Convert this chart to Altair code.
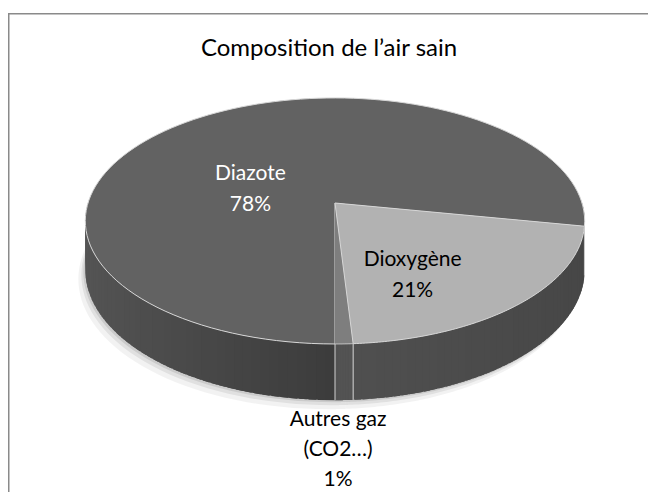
import altair as alt
import pandas as pd

# ---- data ----
names = ["Diazote", "Dioxygène", "Autres gaz (CO2…)"]
values = [78, 21, 1]
label_text = ["Diazote", "Dioxygène", "Autres gaz|(CO2…)"]
title_text = "Composition de l’air sain"

top_colors = ["#626262", "#b2b2b2", "#7e7e7e"]

df = pd.DataFrame({"idx": list(range(len(names))), "name": names,
                   "value": values, "lbl": label_text})

# ---- 3D pie geometry (style) ----
START = 180      # first slice angle (deg, clockwise from top)
B = 247          # horizontal radius
A = 120.4        # vertical radius
P = 0.146        # perspective factor
D = 48           # depth
N = 120          # arc points
M = 48           # side shading segments

W, H = 640, 479
X = alt.Scale(domain=[-327, 313], nice=False, zero=False)
Y = alt.Scale(domain=[190 - H, 190], nice=False, zero=False)


def pxe(t, f="1"):
    return f"{B}*({f})*sin({t})/(1+{P}*({f})*cos({t}))"


def pye(t, f="1"):
    return f"{A}*({f})*cos({t})/(1+{P}*({f})*cos({t}))"


base = (alt.Chart(df)
        .transform_window(cum="sum(value)", sort=[alt.SortField("idx")])
        .transform_joinaggregate(total="sum(value)")
        .transform_calculate(a0=f"({START}+360*(datum.cum-datum.value)/datum.total)*PI/180")
        .transform_calculate(a1=f"({START}+360*datum.cum/datum.total)*PI/180"))

faces = (base
         .transform_calculate(j=f"sequence(-1,{N + 1})")
         .transform_flatten(["j"])
         .transform_calculate(t=f"datum.a0+(datum.a1-datum.a0)*max(datum.j,0)/{N}")
         .transform_calculate(f="datum.j<0?0:1")
         .transform_calculate(px=pxe("datum.t", "datum.f"))
         .transform_calculate(py=pye("datum.t", "datum.f")))

# top faces
top = (faces
       .mark_line(filled=True, stroke="#d6d6d6", strokeWidth=1, strokeJoin="round")
       .encode(x=alt.X("px:Q", scale=X, axis=None),
               y=alt.Y("py:Q", scale=Y, axis=None),
               order="j:Q",
               detail="name:N",
               fill=alt.Fill("name:N", scale=alt.Scale(domain=names, range=top_colors),
                             legend=None)))

# soft shadow: bottom faces shifted down-left
shadows = []
for ox, oy, op in [(-7, 9, 0.05), (-4, 5, 0.07), (-2, 2, 0.09)]:
    shadows.append(
        faces
        .transform_calculate(sx=f"datum.px+({ox})")
        .transform_calculate(sy=f"datum.py-{D}/(1+{P}*datum.f*cos(datum.t))-({oy})")
        .mark_line(filled=True, strokeWidth=0, fill="black", fillOpacity=op)
        .encode(x=alt.X("sx:Q", scale=X, axis=None),
                y=alt.Y("sy:Q", scale=Y, axis=None),
                order="j:Q",
                detail="name:N"))

# side shading per slice: base, slope left, slope right
shade = {"Diazote": (60, 25, -10), "Dioxygène": (80, 10, 10), "Autres gaz (CO2…)": (74, 0, 0)}
vexpr = ""
for nm, (b0, sl, sr) in shade.items():
    vexpr += f"datum.name==='{nm}' ? {b0}-(sin(datum.tm)<0?{sl}:{sr})*sin(datum.tm) : "
vexpr += "70"

side = (base
        .transform_calculate(pc="[0,1]")
        .transform_flatten(["pc"])
        .transform_calculate(lo="max(datum.a0,(90+360*datum.pc)*PI/180)")
        .transform_calculate(hi="min(datum.a1,(270+360*datum.pc)*PI/180)")
        .transform_filter("datum.lo<datum.hi")
        .transform_calculate(q=f"sequence(0,{M})")
        .transform_flatten(["q"])
        .transform_calculate(k="[0,1,2,3]")
        .transform_flatten(["k"])
        .transform_calculate(t=f"min(datum.hi, datum.lo+(datum.hi-datum.lo)*(datum.q+((datum.k==1||datum.k==2)?1.8:0))/{M})")
        .transform_calculate(tm=f"datum.lo+(datum.hi-datum.lo)*(datum.q+0.5)/{M}")
        .transform_calculate(key="datum.name+'-'+datum.pc+'-'+datum.q")
        .transform_calculate(px=pxe("datum.t"))
        .transform_calculate(py=f"{pye('datum.t')}-(datum.k>=2?{D}:0)/(1+{P}*cos(datum.t))")
        .transform_calculate(v=vexpr)
        .transform_calculate(col="'rgb('+round(datum.v)+','+round(datum.v)+','+round(datum.v)+')'")
        .mark_line(filled=True, strokeWidth=0)
        .encode(x=alt.X("px:Q", scale=X, axis=None),
                y=alt.Y("py:Q", scale=Y, axis=None),
                order="k:Q",
                detail="key:N",
                fill=alt.Fill("col:N", scale=None)))

# vertical slice edges on the front side
edges = (base
         .transform_filter("cos(datum.a0) < 0")
         .transform_calculate(ex=pxe("datum.a0"))
         .transform_calculate(ey=pye("datum.a0"))
         .transform_calculate(ey2=f"datum.ey-{D}/(1+{P}*cos(datum.a0))")
         .mark_rule(color="#d0d0d0", strokeWidth=1)
         .encode(x=alt.X("ex:Q", scale=X, axis=None),
                 y=alt.Y("ey:Q", scale=Y, axis=None),
                 y2="ey2:Q"))

# labels (first line placed at anchor + dy)
label_style = {"Diazote": (0.55, -3, 19, "white", 31),
               "Dioxygène": (0.55, -18, 4, "black", 31),
               "Autres gaz (CO2…)": (1.0, -6, 76, "black", 30)}
labels = []
for nm, (f, dx, dy, c, lh) in label_style.items():
    labels.append(
        base.transform_filter(f"datum.name==='{nm}'")
        .transform_calculate(tm="(datum.a0+datum.a1)/2")
        .transform_calculate(lab="datum.lbl+'|'+format(datum.value/datum.total,'.0%')")
        .transform_calculate(lx=pxe("datum.tm", str(f)))
        .transform_calculate(ly=pye("datum.tm", str(f)))
        .mark_text(font="Lato", fontSize=21, lineBreak="|", lineHeight=lh,
                   color=c, dx=dx, dy=dy, align="center", baseline="middle")
        .encode(x=alt.X("lx:Q", scale=X, axis=None),
                y=alt.Y("ly:Q", scale=Y, axis=None),
                text="lab:N"))

dummy = pd.DataFrame({"a": [0]})
title = (alt.Chart(dummy).mark_text(text=title_text, font="Lato", fontSize=24,
                                     color="black", align="center", baseline="middle")
         .encode(x=alt.value(321), y=alt.value(36)))
border_left = (alt.Chart(dummy).mark_rule(color="#8a8a8a", strokeWidth=1.5)
               .encode(x=alt.value(0.75), y=alt.value(0), y2=alt.value(H)))
border_top = (alt.Chart(dummy).mark_rule(color="#8a8a8a", strokeWidth=1.5)
              .encode(x=alt.value(0), x2=alt.value(W), y=alt.value(0.75)))

chart = (alt.layer(border_left, border_top, *shadows, side, edges, top, *labels, title)
         .properties(width=W, height=H, autosize="none",
                     padding={"left": 0, "top": 5, "right": 0, "bottom": 0},
                     view=alt.ViewBackground(stroke="transparent", strokeWidth=0))
         .configure_view(stroke="transparent", strokeWidth=0))

chart.save("out.html", embed_options={"renderer": "svg", "actions": False})
